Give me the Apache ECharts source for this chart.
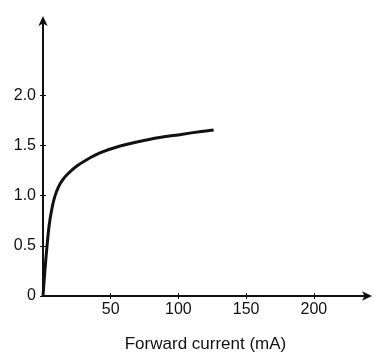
<!DOCTYPE html>
<html>
<head>
<meta charset="utf-8">
<script src="https://cdn.jsdelivr.net/npm/echarts@6/dist/echarts.min.js"></script>
<style>
html,body{margin:0;padding:0;background:#fff;}
#c{width:374px;height:358px;}
</style>
</head>
<body>
<div id="c"></div>
<script>
const currentMA = [0, 1.3, 2.5, 4.5, 6.7, 8.7, 11.2, 14.1, 18.6, 24.5, 32, 42, 57, 80, 102, 117, 126];
const voltage = [0, 0.235, 0.43, 0.70, 0.88, 0.99, 1.08, 1.15, 1.22, 1.29, 1.355, 1.425, 1.495, 1.565, 1.61, 1.64, 1.655];
const xTicks = [50, 100, 150, 200];
const yTicks = [0, 0.5, 1.0, 1.5, 2.0];
const yTickLabels = ['0', '0.5', '1.0', '1.5', '2.0'];
const xTitle = 'Forward current (mA)';

const chart = echarts.init(document.getElementById('c'), null, {renderer: 'canvas'});
const font = 'Liberation Sans, Arial, sans-serif';
const ink = '#111';
const xMin = 0, xMax = 240, yMin = 0, yMax = 2.75;

chart.setOption({
  animation: false,
  backgroundColor: '#fff',
  grid: {left: 43, right: 6, top: 20, bottom: 57, containLabel: false},
  xAxis: [{
    type: 'value', min: xMin, max: xMax,
    name: xTitle, nameLocation: 'middle', nameGap: 40,
    nameTextStyle: {fontFamily: font, fontSize: 17, color: ink},
    axisLine: {show: true, lineStyle: {color: ink, width: 2}, symbol: ['none', 'arrow'], symbolSize: [7, 10], symbolOffset: [0, 4]},
    axisTick: {show: true, length: 3, lineStyle: {color: ink, width: 1}, customValues: xTicks},
    axisLabel: {customValues: xTicks, fontFamily: font, fontSize: 16, color: ink, margin: 6},
    splitLine: {show: false}
  }, {
    type: 'value', min: xMin, max: xMax, position: 'bottom',
    axisLine: {show: false},
    axisTick: {show: true, inside: true, length: 3, lineStyle: {color: ink, width: 1}, customValues: xTicks},
    axisLabel: {show: false},
    splitLine: {show: false}
  }],
  yAxis: [{
    type: 'value', min: yMin, max: yMax,
    axisLine: {show: true, lineStyle: {color: ink, width: 2}, symbol: ['none', 'arrow'], symbolSize: [7, 10], symbolOffset: [0, 4]},
    axisTick: {show: true, length: 3, lineStyle: {color: ink, width: 1}, customValues: yTicks},
    axisLabel: {customValues: yTicks, fontFamily: font, fontSize: 16, color: ink, margin: 7,
      formatter: function (v) { const i = yTicks.indexOf(v); return i >= 0 ? yTickLabels[i] : ''; }},
    splitLine: {show: false}
  }, {
    type: 'value', min: yMin, max: yMax, position: 'left',
    axisLine: {show: false},
    axisTick: {show: true, inside: true, length: 3, lineStyle: {color: ink, width: 1}, customValues: yTicks},
    axisLabel: {show: false},
    splitLine: {show: false}
  }],
  series: [{
    type: 'line',
    xAxisIndex: 0, yAxisIndex: 0,
    data: currentMA.map((x, i) => [x, voltage[i]]),
    smooth: 0.25,
    showSymbol: false,
    lineStyle: {color: ink, width: 3}
  }]
});
</script>
</body>
</html>
